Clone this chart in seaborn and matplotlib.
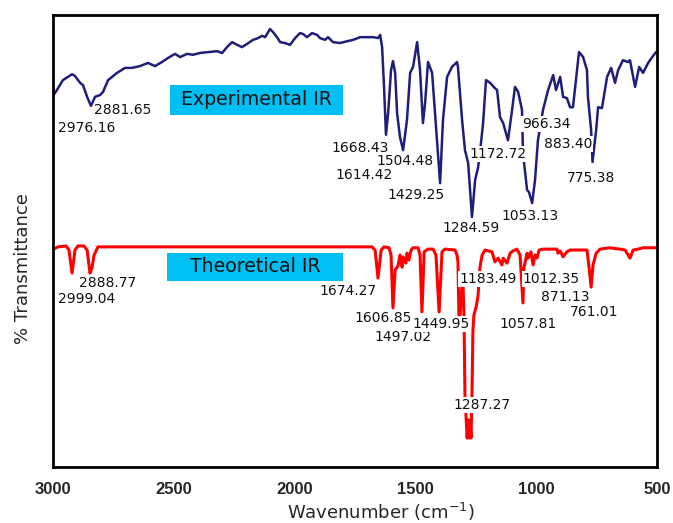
import matplotlib
matplotlib.use("Agg")
import matplotlib.pyplot as plt
from matplotlib.patches import Rectangle
import seaborn as sns
import pandas as pd

# ---------------- data ----------------
exp_wavenumber = [3000, 2992, 2959, 2921, 2909, 2888, 2876, 2859, 2843, 2826, 2805, 2793, 2772,
                  2735, 2702, 2673, 2640, 2607, 2578, 2549, 2524, 2495, 2474, 2445, 2421, 2392,
                  2358, 2321, 2300, 2280, 2259, 2238, 2218, 2197, 2172, 2151, 2135, 2122, 2102,
                  2089, 2073, 2060, 2040, 2019, 1998, 1978, 1965, 1949, 1928, 1907, 1895, 1874,
                  1862, 1841, 1812, 1783, 1758, 1729, 1700, 1675, 1655, 1646, 1638, 1630, 1622,
                  1613, 1601, 1593, 1584, 1576, 1564, 1551, 1535, 1522, 1510, 1493, 1481, 1469,
                  1460, 1448, 1431, 1419, 1398, 1386, 1369, 1349, 1328, 1324, 1307, 1295, 1282,
                  1266, 1253, 1241, 1233, 1220, 1208, 1191, 1171, 1162, 1150, 1137, 1117, 1100,
                  1088, 1075, 1059, 1055, 1038, 1030, 1017, 1005, 993, 972, 951, 930, 918, 901,
                  889, 873, 860, 848, 831, 823, 806, 790, 786, 773, 767, 752, 744, 728, 707, 690,
                  674, 661, 641, 620, 612, 591, 574, 558, 537, 517, 504]
exp_transmittance = [82.3, 82.7, 85.6, 86.9, 86.5, 85.0, 84.5, 81.9, 79.9, 81.9, 82.3, 83.0, 85.6,
                     87.2, 88.3, 88.3, 88.7, 89.4, 88.7, 89.6, 90.5, 91.4, 90.7, 91.4, 91.2, 91.6,
                     91.8, 92.0, 91.6, 92.9, 94.0, 93.4, 92.9, 93.6, 94.5, 94.9, 95.4, 95.1, 96.9,
                     96.2, 95.1, 94.0, 93.8, 93.4, 94.9, 96.0, 95.8, 95.1, 96.0, 95.6, 94.9, 94.5,
                     95.1, 94.0, 93.8, 94.2, 94.5, 95.1, 95.1, 95.1, 94.9, 95.6, 92.9, 84.1, 73.5,
                     78.3, 87.8, 89.8, 87.2, 78.3, 73.0, 70.1, 76.8, 87.2, 88.5, 94.0, 87.8, 76.1,
                     80.5, 89.6, 87.2, 78.3, 62.8, 76.8, 86.3, 88.5, 89.6, 88.5, 76.8, 70.1, 67.3,
                     55.3, 63.5, 66.2, 69.5, 76.1, 85.6, 85.0, 83.8, 83.4, 77.4, 76.1, 72.3, 79.0,
                     84.1, 83.0, 79.0, 69.5, 61.3, 60.8, 58.4, 63.5, 72.3, 79.0, 83.4, 86.7, 83.4, 86.3,
                     81.9, 81.6, 79.6, 79.6, 87.8, 91.8, 90.7, 87.8, 81.9, 74.6, 67.5, 74.6, 79.6, 79.4,
                     86.3, 88.3, 85.0, 87.8, 90.0, 89.6, 90.0, 84.1, 88.5, 87.2, 89.4, 90.9, 91.8]

theo_wavenumber = [3000, 2979, 2946, 2934, 2921, 2909, 2897, 2872, 2859, 2847, 2839, 2830, 2814,
                   2392, 1978, 1680, 1667, 1655, 1642, 1630, 1609, 1601, 1593, 1584, 1572, 1564,
                   1555, 1551, 1539, 1535, 1527, 1518, 1510, 1489, 1481, 1473, 1464, 1448, 1427,
                   1415, 1402, 1390, 1378, 1336, 1328, 1324, 1320, 1316, 1307, 1303, 1299, 1295,
                   1286, 1282, 1278, 1274, 1270, 1266, 1262, 1258, 1249, 1241, 1233, 1224, 1212,
                   1183, 1171, 1158, 1142, 1137, 1121, 1108, 1096, 1080, 1067, 1055, 1051, 1038,
                   1034, 1022, 1013, 1005, 997, 988, 972, 914, 910, 901, 889, 873, 860, 790, 781,
                   773, 765, 752, 736, 695, 653, 632, 612, 599, 579, 558, 508]
theo_transmittance = [48.2, 48.7, 48.9, 48.0, 42.9, 48.0, 48.9, 48.9, 48.0, 42.9, 44.0, 46.9, 48.7,
                      48.7, 48.7, 48.7, 48.0, 41.8, 48.0, 48.7, 48.5, 46.9, 35.2, 43.6, 44.5, 46.9,
                      44.2, 46.5, 45.1, 47.3, 45.8, 48.0, 48.5, 48.5, 46.9, 34.3, 47.6, 48.2, 48.2,
                      46.9, 34.3, 47.6, 48.2, 48.0, 46.9, 45.4, 33.2, 33.2, 40.3, 40.3, 33.2, 15.9,
                      6.4, 10.4, 6.4, 10.4, 6.4, 15.9, 30.3, 33.6, 35.4, 37.8, 44.2, 46.9, 48.0,
                      47.6, 45.4, 46.2, 44.7, 46.2, 45.1, 47.3, 47.8, 48.2, 46.9, 36.3, 44.0, 47.3,
                      46.2, 47.6, 44.7, 46.9, 46.2, 48.0, 48.2, 48.2, 47.3, 47.8, 46.5, 47.6, 48.0,
                      48.0, 44.0, 39.8, 44.7, 47.3, 48.2, 48.5, 48.2, 48.0, 46.2, 48.0, 48.2, 48.5,
                      48.5]

exp_peak_labels = ["2976.16", "2881.65", "1668.43", "1614.42", "1504.48", "1429.25", "1284.59",
                   "1172.72", "966.34", "883.40", "775.38", "1053.13"]
exp_label_x = [2859, 2710, 1729, 1713, 1543, 1498, 1270, 1158, 959, 868, 773, 1026]
exp_label_y = [75.0, 79.0, 70.6, 64.6, 67.7, 60.2, 52.9, 69.2, 75.9, 71.5, 63.9, 55.5]

theo_peak_labels = ["2888.77", "2999.04", "1674.27", "1606.85", "1497.02", "1449.95", "1183.49",
                    "1012.35", "1057.81", "871.13", "761.01", "1287.27"]
theo_label_x = [2772, 2859, 1779, 1634, 1551, 1394, 1200, 939, 1034, 881, 761, 1224]
theo_label_y = [40.7, 37.2, 38.9, 33.0, 28.8, 31.6, 41.6, 41.6, 31.6, 37.6, 34.3, 13.7]

series_names = ["Experimental IR", "Theoretical IR"]

x_ticks = [3000, 2500, 2000, 1500, 1000, 500]

# layout of the two cyan name boxes (x0, x1, y0, y1 in data units)
name_boxes = [(2516, 1800, 77.9, 84.5), (2528, 1800, 41.2, 47.3)]

# ---------------- plot ----------------
sns.set_style("white")
plt.rcParams['font.family'] = ['DejaVu Sans']

fig = plt.figure(figsize=(6.73, 5.23), dpi=100)
ax = fig.add_axes([0.0788, 0.1071, 0.8975, 0.8642])

exp_df = pd.DataFrame({"w": exp_wavenumber, "t": exp_transmittance})
theo_df = pd.DataFrame({"w": theo_wavenumber, "t": theo_transmittance})

sns.lineplot(data=exp_df, x="w", y="t", sort=False, estimator=None, color="#1f1f7a",
             linewidth=1.8, ax=ax, zorder=2)
sns.lineplot(data=theo_df, x="w", y="t", sort=False, estimator=None, color="#ff0000",
             linewidth=2.2, ax=ax, zorder=2)

box = dict(facecolor="white", edgecolor="none", pad=0.6)
for lab, lx, ly in zip(exp_peak_labels, exp_label_x, exp_label_y):
    ax.text(lx, ly, lab, ha="center", va="center", fontsize=10, color="#111111",
            bbox=box, zorder=3)
for lab, lx, ly in zip(theo_peak_labels, theo_label_x, theo_label_y):
    ax.text(lx, ly, lab, ha="center", va="center", fontsize=10, color="#111111",
            bbox=box, zorder=3)

for name, (x0, x1, y0, y1) in zip(series_names, name_boxes):
    ax.add_patch(Rectangle((x0, y0), x1 - x0, y1 - y0, facecolor="#00bff2",
                           edgecolor="none", zorder=4))
    ax.text((x0 + x1) / 2, (y0 + y1) / 2, name, ha="center", va="center",
            fontsize=13.6, color="#111111", zorder=5)

ax.set_xlim(3000, 500)
ax.set_ylim(0, 100)
ax.set_xticks(x_ticks)
ax.set_xticklabels([str(t) for t in x_ticks], fontweight="bold", fontsize=12,
                   family="Liberation Sans")
ax.set_yticks([])
ax.tick_params(axis="x", length=0, pad=11)

ax.set_xlabel("Wavenumber (cm$^{-1}$)", fontsize=13)
ax.xaxis.set_label_coords(0.543, -0.10)
ax.xaxis.label.set_va("center")
ax.set_ylabel("% Transmittance", fontsize=13)
ax.yaxis.set_label_coords(-0.05, 0.44)
ax.yaxis.label.set_va("center")

for s in ax.spines.values():
    s.set_color("black")
    s.set_linewidth(2.0)

fig.savefig("out.png", dpi=100)
